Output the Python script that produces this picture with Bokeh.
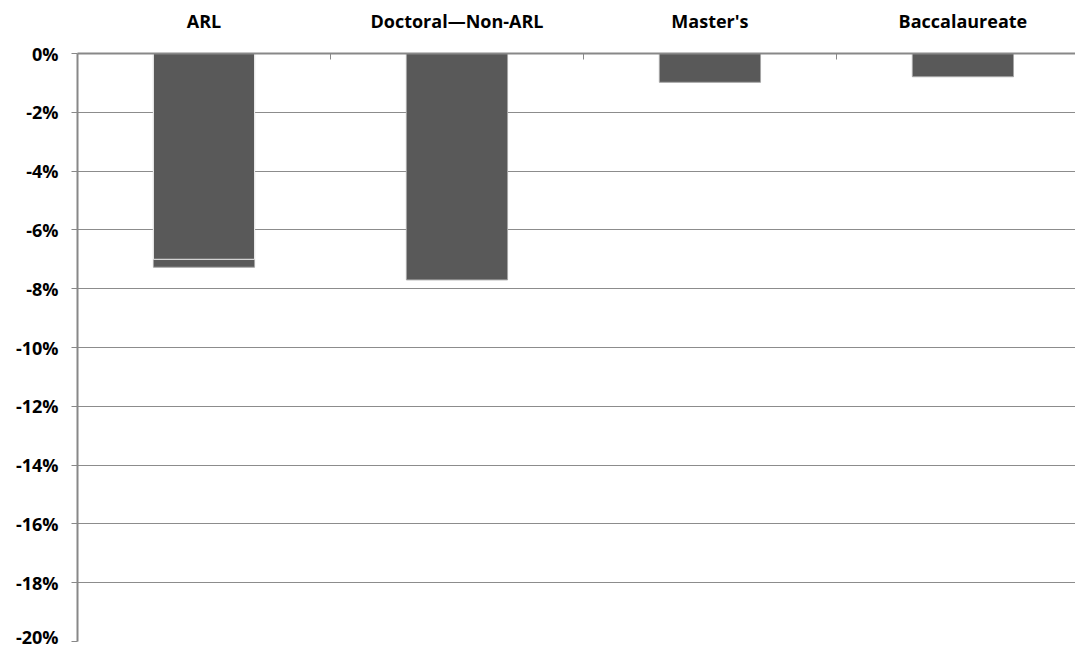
from bokeh.plotting import figure
from bokeh.models import Range1d, FixedTicker, LinearAxis, ColumnDataSource
from bokeh.embed import file_html
from bokeh.resources import INLINE

categories = ["ARL", "Doctoral\u2014Non-ARL", "Master's", "Baccalaureate"]
change_pct = [-7.27, -7.7, -0.98, -0.79]
arl_segment_pct = [-7.0, float("nan"), float("nan"), float("nan")]
y_ticks = [0, -2, -4, -6, -8, -10, -12, -14, -16, -18, -20]

FONT = "Open Sans"
centers = [i + 0.5 for i in range(len(categories))]
bounds = [i + 1 for i in range(len(categories) - 1)]

p = figure(width=1075, height=648, output_backend="svg", toolbar_location=None,
           x_range=Range1d(0, 3.945), y_range=Range1d(-20, 0),
           x_axis_location=None, y_axis_location=None,
           min_border_left=77, min_border_right=0, min_border_top=53, min_border_bottom=7)
p.outline_line_color = None
p.background_fill_color = "white"

# grid
p.xgrid.visible = False
p.ygrid.ticker = FixedTicker(ticks=y_ticks)
p.ygrid.grid_line_color = "#8c8c8c"
p.ygrid.grid_line_width = 1

src = ColumnDataSource(dict(x=centers, top=[0] * 4, bottom=change_pct))
p.vbar(x="x", top="top", bottom="bottom", width=0.40, source=src,
       fill_color="#595959", line_color="#a6a6a6", line_width=1)
src2 = ColumnDataSource(dict(x=centers, top=[0] * 4, bottom=arl_segment_pct))
p.vbar(x="x", top="top", bottom="bottom", width=0.40, source=src2,
       fill_color="#595959", line_color="#f2f2f2", line_width=1)

# left axis
ya = LinearAxis(ticker=FixedTicker(ticks=y_ticks),
                major_label_overrides={t: f"{t}%" for t in y_ticks})
ya.axis_line_color = "#888888"
ya.axis_line_width = 2
ya.major_tick_line_color = "#888888"
ya.major_tick_out = 6
ya.major_tick_in = 0
ya.minor_tick_line_color = None
ya.major_label_text_font = FONT
ya.major_label_text_font_style = "bold"
ya.major_label_text_font_size = "18px"
ya.major_label_text_color = "#000000"
ya.major_label_standoff = 13
p.add_layout(ya, "left")

# top axis: boundary ticks
xa = LinearAxis(ticker=FixedTicker(ticks=bounds), major_label_text_alpha=0)
xa.axis_line_color = "#888888"
xa.axis_line_width = 2
xa.major_tick_line_color = "#888888"
xa.major_tick_in = 6
xa.major_tick_out = 0
xa.minor_tick_line_color = None
xa.major_label_text_font_size = "1px"
xa.major_label_standoff = 0
p.add_layout(xa, "above")

# category labels
xl = LinearAxis(ticker=FixedTicker(ticks=centers),
                major_label_overrides={c: n for c, n in zip(centers, categories)})
xl.axis_line_color = None
xl.major_tick_line_color = None
xl.minor_tick_line_color = None
xl.major_label_text_font = FONT
xl.major_label_text_font_style = "bold"
xl.major_label_text_font_size = "18px"
xl.major_label_text_color = "#000000"
xl.major_label_standoff = 15
p.add_layout(xl, "above")

open("out.html", "w").write(file_html(p, INLINE))
